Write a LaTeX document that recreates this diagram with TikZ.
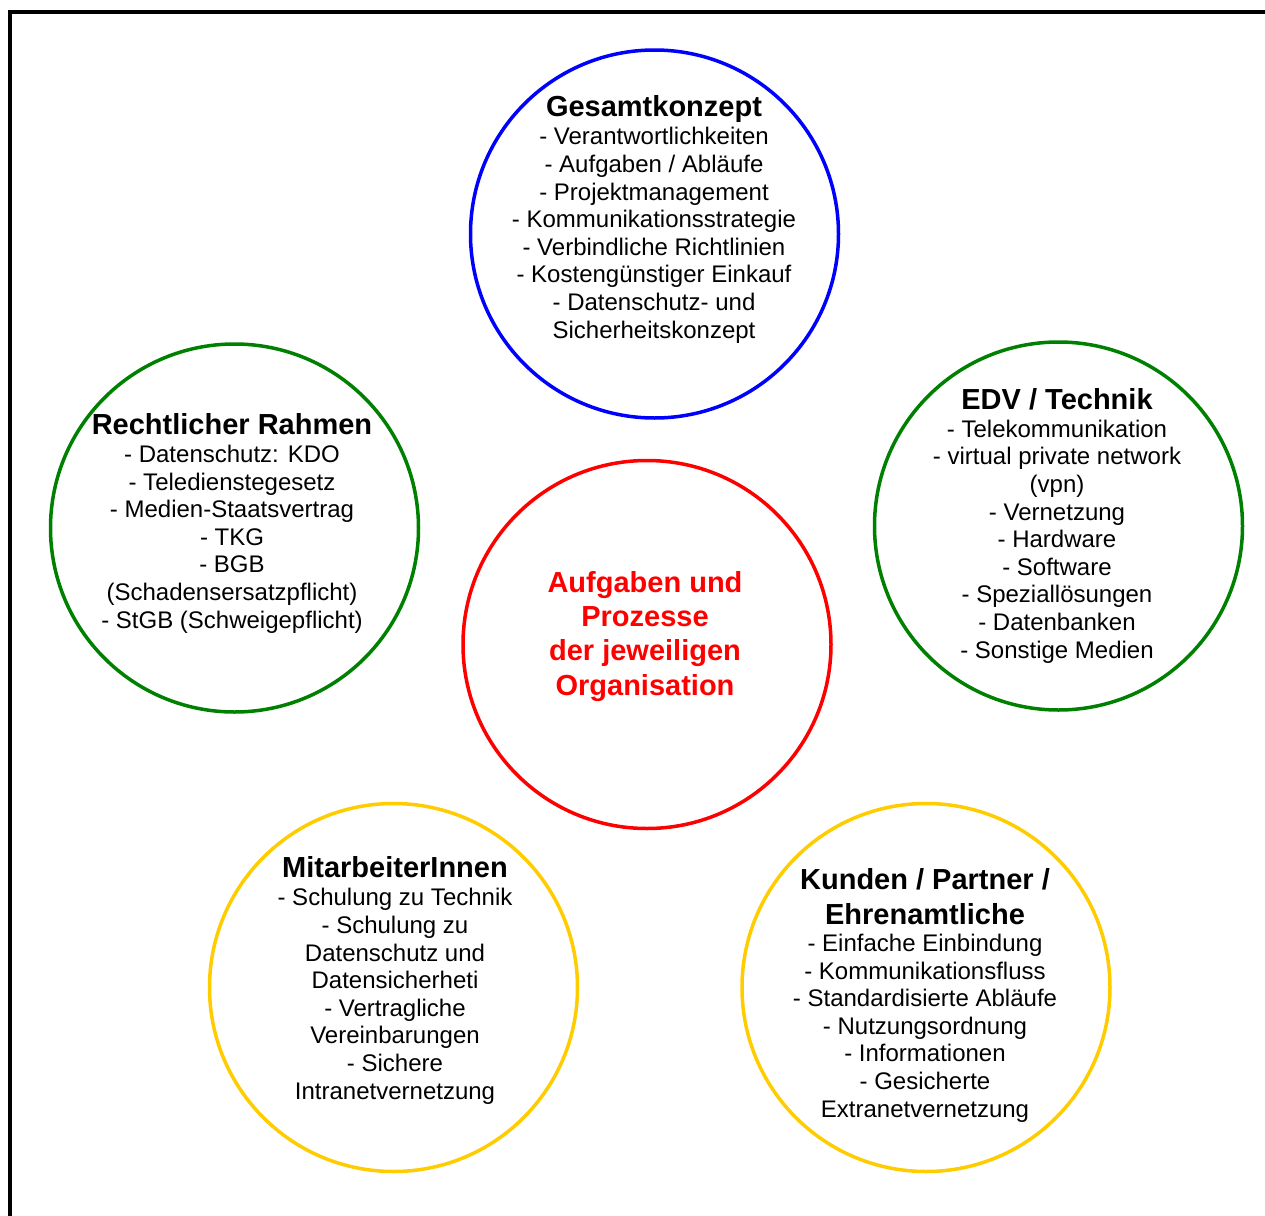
\documentclass[tikz,border=0pt]{standalone}
\usepackage{fontspec}
\setmainfont{Liberation Sans}

\newcommand{\titelfont}{\fontsize{14.5}{17.15}\selectfont\bfseries}
\newcommand{\listenfont}{\fontsize{12}{13.8}\selectfont}

\begin{document}
\begin{tikzpicture}[x = 0.5pt, y = -0.5pt]
  % styles
  \tikzstyle{frame} = [line width = 2pt]
  \tikzstyle{ring} = [circle, minimum size = 184pt, inner sep = 0pt, line width = 1.75pt]
  \tikzstyle{liste} = [align = center, inner sep = 0pt, anchor = base, font = \listenfont]
  \colorlet{konzeptcolor}{blue}
  \colorlet{rahmencolor}{green!50!black}
  \colorlet{kerncolor}{red}
  \colorlet{menschcolor}{rgb,255:red,255;green,204;blue,0}

  \useasboundingbox (0, 0) rectangle (1265, 1216);

  % frame
  \draw[frame] (10, 1216) -- (10, 12) -- (1265, 12);

  % circles
  \node[ring, draw = konzeptcolor] (konzept) at (654.5, 234) {};
  \node[ring, draw = rahmencolor] (recht) at (234.5, 528) {};
  \node[ring, draw = rahmencolor] (edv) at (1058.5, 526) {};
  \node[ring, draw = kerncolor] (kern) at (647, 644.5) {};
  \node[ring, draw = menschcolor] (mitarbeiter) at (393.5, 987.5) {};
  \node[ring, draw = menschcolor] (kunden) at (926, 987.5) {};

  % gesamtkonzept (base = last line)
  \node[liste] (konzepttext) at (654, 338) {{\titelfont Gesamtkonzept}\\[0.2pt]
    - Verantwortlichkeiten\\ - Aufgaben / Abläufe\\ - Projektmanagement\\
    - Kommunikationsstrategie\\ - Verbindliche Richtlinien\\
    - Kostengünstiger Einkauf\\ - Datenschutz- und\\ Sicherheitskonzept};

  % rechtlicher rahmen
  \node[liste] (rechttext) at (232, 628) {{\titelfont Rechtlicher Rahmen}\\[0.2pt]
    - Datenschutz: KDO\\ - Teledienstegesetz\\ - Medien-Staatsvertrag\\
    - TKG\\ - BGB\\ (Schadensersatzpflicht)\\ - StGB (Schweigepflicht)};

  % edv / technik
  \node[liste] (edvtext) at (1057, 658) {{\titelfont EDV / Technik}\\[0.2pt]
    - Telekommunikation\\ - virtual private network\\ (vpn)\\ - Vernetzung\\
    - Hardware\\ - Software\\ - Speziallösungen\\ - Datenbanken\\
    - Sonstige Medien};

  % aufgaben und prozesse
  \node[liste, font = \titelfont, text = kerncolor] (kerntext) at (645, 695)
    {Aufgaben und\\ Prozesse\\ der jeweiligen\\ Organisation};

  % mitarbeiterinnen
  \node[liste] (mitarbeitertext) at (395, 1099) {{\titelfont MitarbeiterInnen}\\[0.2pt]
    - Schulung zu Technik\\ - Schulung zu\\ Datenschutz und\\ Datensicherheti\\
    - Vertragliche\\ Vereinbarungen\\ - Sichere\\ Intranetvernetzung};

  % kunden / partner / ehrenamtliche
  \node[liste] (kundentext) at (925, 1117) {{\titelfont Kunden / Partner /}\\[3.5pt]
    {\titelfont Ehrenamtliche}\\[-0.3pt]
    - Einfache Einbindung\\ - Kommunikationsfluss\\ - Standardisierte Abläufe\\
    - Nutzungsordnung\\ - Informationen\\ - Gesicherte\\ Extranetvernetzung};

\end{tikzpicture}
\end{document}
